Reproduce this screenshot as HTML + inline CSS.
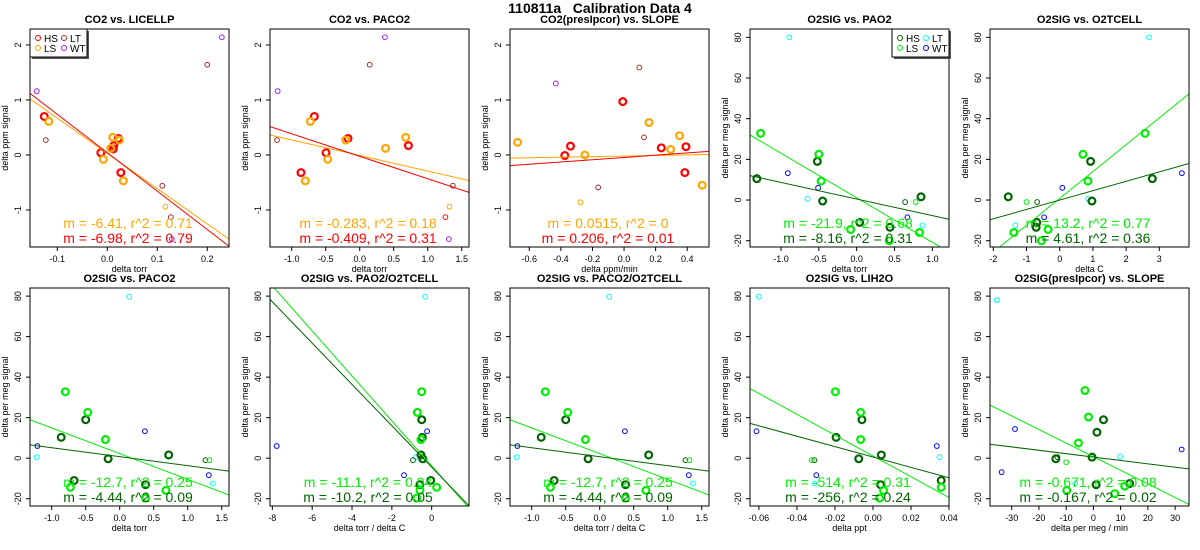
<!DOCTYPE html>
<html><head><meta charset="utf-8">
<style>
html,body{margin:0;padding:0;background:#fff;}
svg{display:block;font-family:"Liberation Sans",Arial,sans-serif;}
</style></head>
<body>
<svg id="chart" width="1200" height="550" viewBox="0 0 1200 550" xmlns="http://www.w3.org/2000/svg">
<text x="600" y="13" text-anchor="middle" font-size="14" font-weight="bold" fill="#000" xml:space="preserve">110811a   Calibration Data 4</text>
</svg>
<script>
// ---------- data (x, y pairs) ----------
const P1_HS=[[-0.126,0.70],[-0.013,0.04],[0.013,0.17],[0.012,0.11],[0.022,0.30],[0.027,-0.32]];
const P1_LS=[[-0.117,0.61],[-0.008,-0.08],[0.011,0.32],[0.007,0.12],[0.024,0.27],[0.032,-0.47]];
const P1_LT=[[-0.123,0.27],[0.11,-0.56],[0.127,-1.13],[0.20,1.64]];
const P1_LSt=[[0.116,-0.94]];
const P1_WT=[[-0.141,1.16],[0.229,2.14],[0.129,-1.53]];
const P1_FIT=[[-6.41,0.029],[-6.98,0.04]];

const P2_HS=[[-0.863,-0.32],[-0.667,0.70],[-0.495,0.04],[-0.172,0.30],[0.716,0.17]];
const P2_LS=[[-0.80,-0.47],[-0.725,0.61],[-0.47,-0.08],[-0.206,0.27],[0.38,0.12],[0.676,0.32]];
const P2_LT=[[-1.216,0.27],[0.147,1.64],[1.37,-0.56]];
const P2_HSt=[[1.26,-1.13]];
const P2_LSt=[[1.32,-0.94]];
const P2_WT=[[-1.206,1.16],[0.37,2.14],[1.31,-1.53]];
const P2_FIT=[[-0.283,-0.009],[-0.409,-0.024]];

const P3_HS=[[-0.375,-0.01],[-0.339,0.16],[-0.008,0.97],[0.236,0.13],[0.385,-0.32],[0.392,0.15]];
const P3_LS=[[-0.674,0.23],[-0.248,0.0],[0.158,0.59],[0.295,0.10],[0.352,0.35],[0.495,-0.55]];
const P3_LT=[[0.097,1.59],[0.126,0.32],[-0.164,-0.59]];
const P3_LSt=[[-0.276,-0.86]];
const P3_WT=[[-0.432,1.30]];
const P3_FIT=[[0.0515,-0.02],[0.206,-0.045]];

const P4_HS=[[-1.32,10.5],[-0.52,19.0],[-0.45,-0.5],[0.04,-11],[0.44,-13.4],[0.85,1.6]];
const P4_LS=[[-1.27,32.8],[-0.50,22.5],[-0.47,9.3],[-0.08,-14.5],[0.43,-20],[0.83,-16]];
const P4_LT=[[-0.89,80],[-0.65,0.6],[0.87,-12.5]];
const P4_HSt=[[0.64,-1]];
const P4_LSt=[[0.78,-1]];
const P4_WT=[[-0.91,13.2],[-0.51,6],[0.67,-8.5]];
const P4_FIT=[[-21.9,1.1],[-8.16,0.49]];

const P5_HS=[[-1.55,1.6],[-0.69,-11],[-0.71,-13.4],[0.93,19.0],[0.97,-0.5],[2.79,10.5]];
const P5_LS=[[-1.38,-16],[-0.35,-14.5],[-0.55,-20],[0.70,22.5],[0.85,9.3],[2.57,32.8]];
const P5_LT=[[2.69,80],[-1.34,-12.5],[0.85,0.6]];
const P5_HSt=[[-0.68,-1]];
const P5_LSt=[[-1.0,-1]];
const P5_WT=[[-0.47,-8.5],[0.08,6],[3.68,13.2]];
const P5_FIT=[[13.2,0.8],[4.61,0.0]];

const B1_HS=[[-0.86,10.3],[-0.67,-11],[-0.50,19],[-0.17,-0.3],[0.38,-13.1],[0.72,1.6]];
const B1_LS=[[-0.80,32.8],[-0.725,-14.4],[-0.47,22.6],[-0.21,9.2],[0.38,-19.7],[0.68,-15.9]];
const B1_LT=[[0.14,79.7],[-1.22,0.5],[1.37,-12.5]];
const B1_HSt=[[1.26,-1]];
const B1_LSt=[[1.32,-1]];
const B1_WT=[[-1.21,6],[0.37,13.3],[1.31,-8.4]];
const B1_FIT=[[-12.7,2.25],[-4.44,0.74]];

const B2_HS=[[-0.50,19],[-0.47,10.3],[-0.54,1.6],[-0.45,-0.3],[-0.05,-11],[-0.59,-13.1]];
const B2_LS=[[-0.50,32.8],[-0.72,22.6],[-0.54,9.2],[0.25,-14.4],[-0.59,-15.9],[-0.75,-19.7]];
const B2_LT=[[-0.33,79.7],[-0.79,0.5],[-0.62,-12.5]];
const B2_HSt=[[-0.94,-1]];
const B2_LSt=[];
const B2_WT=[[-7.78,6],[-0.23,13.3],[-1.39,-8.4]];
const B2_FIT=[[-11.1,-3.8],[-10.2,-4.4]];

const B4_HS=[[-0.0194,10.3],[-0.0075,-0.3],[-0.0058,19],[0.0044,1.6],[0.004,-13.1],[0.0359,-11]];
const B4_LS=[[-0.0198,32.8],[-0.0065,22.6],[-0.0065,9.2],[0.0035,-19.7],[0.0056,-15.9],[0.0359,-14.4]];
const B4_LT=[[-0.060,79.7],[-0.0308,-12.5],[0.035,0.5]];
const B4_HSt=[[-0.0308,-1]];
const B4_LSt=[[-0.0322,-1]];
const B4_WT=[[-0.0613,13.3],[-0.0298,-8.4],[0.0336,6]];
const B4_FIT=[[-514,1.1],[-256,0.6]];

const B5_HS=[[-13.8,-0.3],[-0.5,0.5],[1.3,12.8],[3.7,19],[1.0,-13.1],[13.3,-12.5]];
const B5_LS=[[-3.1,33.4],[-1.8,20.3],[-5.5,7.5],[-9.8,-15.9],[7.8,-17.5],[11.5,-13.8]];
const B5_LT=[[-35.5,78],[-6.7,-12.5],[9.8,0.8]];
const B5_HSt=[[-13.2,0.5]];
const B5_LSt=[[-10,-2]];
const B5_WT=[[-28.8,14.4],[-33.7,-6.9],[32.4,4.3]];
const B5_FIT=[[-0.671,0.72],[-0.167,0.56]];

const CO2_YTICKS=[-1,0,1,2];
const O2_YTICKS=[-20,0,20,40,60,80];
const X_TICKS_P1=["-0.1","0.0","0.1","0.2"];
const X_TICKS_P2=["-1.0","-0.5","0.0","0.5","1.0","1.5"];
const X_TICKS_P3=["-0.6","-0.4","-0.2","0.0","0.2","0.4"];
const X_TICKS_P4=["-1.0","-0.5","0.0","0.5","1.0"];
const X_TICKS_P5=["-2","-1","0","1","2","3"];
const X_TICKS_B2=["-8","-6","-4","-2","0"];
const X_TICKS_B4=["-0.06","-0.04","-0.02","0.00","0.02","0.04"];
const X_TICKS_B5=["-30","-20","-10","0","10","20","30"];
const LABELS_P1=["m = -6.41, r^2 = 0.71","m = -6.98, r^2 = 0.79"];
const LABELS_P2=["m = -0.283, r^2 = 0.18","m = -0.409, r^2 = 0.31"];
const LABELS_P3=["m = 0.0515, r^2 = 0","m = 0.206, r^2 = 0.01"];
const LABELS_P4=["m = -21.9, r^2 = 0.68","m = -8.16, r^2 = 0.31"];
const LABELS_P5=["m = 13.2, r^2 = 0.77","m = 4.61, r^2 = 0.36"];
const LABELS_B1=["m = -12.7, r^2 = 0.25","m = -4.44, r^2 = 0.09"];
const LABELS_B2=["m = -11.1, r^2 = 0.04","m = -10.2, r^2 = 0.05"];
const LABELS_B4=["m = -514, r^2 = 0.31","m = -256, r^2 = 0.24"];
const LABELS_B5=["m = -0.671, r^2 = 0.08","m = -0.167, r^2 = 0.02"];

const NS="http://www.w3.org/2000/svg";
const svg=document.getElementById('chart');
function mk(tag,attrs,parent){const e=document.createElementNS(NS,tag);for(const k in attrs)e.setAttribute(k,attrs[k]);(parent||svg).appendChild(e);return e;}

const CO2C={hs:'#FF0000',ls:'#FFA500',lt:'#A52A2A',wt:'#A020F0'};
const O2C={hs:'#006400',ls:'#00EE00',lt:'#00FFFF',wt:'#0000FF'};

function panel(cfg){
  const L=cfg.ox+30,R=cfg.ox+229,T=cfg.oy+29,B=cfg.oy+247;
  const g=mk('g',{});
  
  
  const sx=v=>L+(v-cfg.xlim[0])/(cfg.xlim[1]-cfg.xlim[0])*(R-L);
  const sy=v=>B-(v-cfg.ylim[0])/(cfg.ylim[1]-cfg.ylim[0])*(B-T);
  const C=cfg.co2?CO2C:O2C;
  // title
  const t=mk('text',{x:(L+R)/2,y:T-6,'text-anchor':'middle','font-size':11,'font-weight':'bold'},g);
  t.textContent=cfg.title;
  
  
  // clip
  const cid='clip'+cfg.id;
  const cp=mk('clipPath',{id:cid},g);mk('rect',{x:L,y:T,width:R-L,height:B-T},cp);
  const pg=mk('g',{'clip-path':'url(#'+cid+')'},g);
  // points
  function pts(arr,col,bold,nm){arr.forEach(p=>{
    const c=mk('circle',{cx:sx(p[0]),cy:sy(p[1]),r:bold?3.4:2.4,fill:'none',stroke:col,'stroke-width':bold?2.2:1},pg);
    
    });}
  pts(cfg.lt,C.lt,false,'point-lt');
  pts(cfg.wt,C.wt,false,'point-wt');
  pts(cfg.hst||[],C.hs,false,'point-hs-thin');
  pts(cfg.lst||[],C.ls,false,'point-ls-thin');
  pts(cfg.hs,C.hs,true,'point-hs');
  pts(cfg.ls,C.ls,true,'point-ls');
  // fit lines: [ls, hs]
  const fc=[C.ls,C.hs];
  cfg.fit.forEach((f,i)=>{
    const x0=cfg.xlim[0],x1=cfg.xlim[1];
    const ln=mk('line',{x1:sx(x0),y1:sy(f[1]+f[0]*x0),x2:sx(x1),y2:sy(f[1]+f[0]*x1),stroke:fc[i],'stroke-width':1},pg);
    
    
  });
  // box
  mk('rect',{x:L,y:T,width:R-L,height:B-T,fill:'none',stroke:'#000','stroke-width':1},g);
  // y ticks
  cfg.yticks.forEach(v=>{const y=sy(v);
    mk('line',{x1:L,y1:y,x2:L-4,y2:y,stroke:'#000'},g);
    const tx=mk('text',{x:L-9,y:y,'text-anchor':'middle','font-size':9,transform:'rotate(-90 '+(L-9)+' '+y+')'},g);
    tx.textContent=String(v);
    
    });
  // x ticks
  cfg.xticks.forEach(s=>{const x=sx(parseFloat(s));
    mk('line',{x1:x,y1:B,x2:x,y2:B+4,stroke:'#000'},g);
    const tx=mk('text',{x:x,y:B+15,'text-anchor':'middle','font-size':9},g);
    tx.textContent=s;
    
    });
  // axis labels
  const xl=mk('text',{x:(L+R)/2,y:B+25,'text-anchor':'middle','font-size':9},g);
  xl.textContent=cfg.xlab;
  
  
  const yx=cfg.ox+8,yy=(T+B)/2;
  const yl=mk('text',{x:yx,y:yy,'text-anchor':'middle','font-size':9,transform:'rotate(-90 '+yx+' '+yy+')'},g);
  yl.textContent=cfg.co2?'delta ppm signal':'delta per meg signal';
  
  
  // annotations
  cfg.labels.forEach((s,i)=>{
    const a=mk('text',{x:cfg.ox+128,y:B-19+i*15,'text-anchor':'middle','font-size':14,fill:fc[i]},g);
    a.textContent=s;
    
    });
  // legend
  if(cfg.legend){
    const lx=cfg.legend==='left'?L:R-57,ly=T;
    const lg=mk('g',{},g);
    
    
    mk('rect',{x:lx+2,y:ly+2,width:57,height:28,fill:'#555'},lg);
    mk('rect',{x:lx,y:ly,width:57,height:28,fill:'#fff',stroke:'#000'},lg);
    const ent=[['HS',C.hs,0,0],['LT',C.lt,1,0],['LS',C.ls,0,1],['WT',C.wt,1,1]];
    ent.forEach(e=>{const ex=lx+8+e[2]*26,ey=ly+9+e[3]*10;
      mk('circle',{cx:ex,cy:ey,r:2.5,fill:'none',stroke:e[1],'stroke-width':1},lg);
      const tt=mk('text',{x:ex+6,y:ey+4,'font-size':10},lg);tt.textContent=e[0];
      
      });
  }
}
const topY=0,botY=259;
panel({id:1,name:'panel-co2-licellp',ox:0,oy:topY,co2:true,title:'CO2 vs. LICELLP',xlab:'delta torr',xlim:[-0.1546,0.2434],ylim:[-1.673,2.29],xticks:X_TICKS_P1,yticks:CO2_YTICKS,hs:P1_HS,ls:P1_LS,lt:P1_LT,lst:P1_LSt,wt:P1_WT,fit:P1_FIT,labels:LABELS_P1,legend:'left'});
panel({id:2,name:'panel-co2-paco2',ox:240,oy:topY,co2:true,title:'CO2 vs. PACO2',xlab:'delta torr',xlim:[-1.319,1.607],ylim:[-1.673,2.29],xticks:X_TICKS_P2,yticks:CO2_YTICKS,hs:P2_HS,ls:P2_LS,lt:P2_LT,hst:P2_HSt,lst:P2_LSt,wt:P2_WT,fit:P2_FIT,labels:LABELS_P2});
panel({id:3,name:'panel-co2-slope',ox:480,oy:topY,co2:true,title:'CO2(presIpcor) vs. SLOPE',xlab:'delta ppm/min',xlim:[-0.722,0.538],ylim:[-1.673,2.29],xticks:X_TICKS_P3,yticks:CO2_YTICKS,hs:P3_HS,ls:P3_LS,lt:P3_LT,lst:P3_LSt,wt:P3_WT,fit:P3_FIT,labels:LABELS_P3});
panel({id:4,name:'panel-o2sig-pao2',ox:720,oy:topY,co2:false,title:'O2SIG vs. PAO2',xlab:'delta torr',xlim:[-1.41,1.22],ylim:[-23.1,84.1],xticks:X_TICKS_P4,yticks:O2_YTICKS,hs:P4_HS,ls:P4_LS,lt:P4_LT,hst:P4_HSt,lst:P4_LSt,wt:P4_WT,fit:P4_FIT,labels:LABELS_P4,legend:'right'});
panel({id:5,name:'panel-o2sig-o2tcell',ox:960,oy:topY,co2:false,title:'O2SIG vs. O2TCELL',xlab:'delta C',xlim:[-2.1,3.894],ylim:[-23.1,84.1],xticks:X_TICKS_P5,yticks:O2_YTICKS,hs:P5_HS,ls:P5_LS,lt:P5_LT,hst:P5_HSt,lst:P5_LSt,wt:P5_WT,fit:P5_FIT,labels:LABELS_P5});
panel({id:6,name:'panel-o2sig-paco2',ox:0,oy:botY,co2:false,title:'O2SIG vs. PACO2',xlab:'delta torr',xlim:[-1.319,1.607],ylim:[-23.6,84],xticks:X_TICKS_P2,yticks:O2_YTICKS,hs:B1_HS,ls:B1_LS,lt:B1_LT,hst:B1_HSt,lst:B1_LSt,wt:B1_WT,fit:B1_FIT,labels:LABELS_B1});
panel({id:7,name:'panel-o2sig-pao2-o2tcell',ox:240,oy:botY,co2:false,title:'O2SIG vs. PAO2/O2TCELL',xlab:'delta torr / delta C',xlim:[-8.117,1.873],ylim:[-23.6,84],xticks:X_TICKS_B2,yticks:O2_YTICKS,hs:B2_HS,ls:B2_LS,lt:B2_LT,hst:B2_HSt,lst:B2_LSt,wt:B2_WT,fit:B2_FIT,labels:LABELS_B2});
panel({id:8,name:'panel-o2sig-paco2-o2tcell',ox:480,oy:botY,co2:false,title:'O2SIG vs. PACO2/O2TCELL',xlab:'delta torr / delta C',xlim:[-1.319,1.607],ylim:[-23.6,84],xticks:X_TICKS_P2,yticks:O2_YTICKS,hs:B1_HS,ls:B1_LS,lt:B1_LT,hst:B1_HSt,lst:B1_LSt,wt:B1_WT,fit:B1_FIT,labels:LABELS_B1});
panel({id:9,name:'panel-o2sig-lih2o',ox:720,oy:botY,co2:false,title:'O2SIG vs. LIH2O',xlab:'delta ppt',xlim:[-0.0647,0.04],ylim:[-23.6,84],xticks:X_TICKS_B4,yticks:O2_YTICKS,hs:B4_HS,ls:B4_LS,lt:B4_LT,hst:B4_HSt,lst:B4_LSt,wt:B4_WT,fit:B4_FIT,labels:LABELS_B4});
panel({id:10,name:'panel-o2sig-slope',ox:960,oy:botY,co2:false,title:'O2SIG(presIpcor) vs. SLOPE',xlab:'delta per meg / min',xlim:[-37.97,35.1],ylim:[-23.6,84],xticks:X_TICKS_B5,yticks:O2_YTICKS,hs:B5_HS,ls:B5_LS,lt:B5_LT,hst:B5_HSt,lst:B5_LSt,wt:B5_WT,fit:B5_FIT,labels:LABELS_B5});
</script>
</body></html>
